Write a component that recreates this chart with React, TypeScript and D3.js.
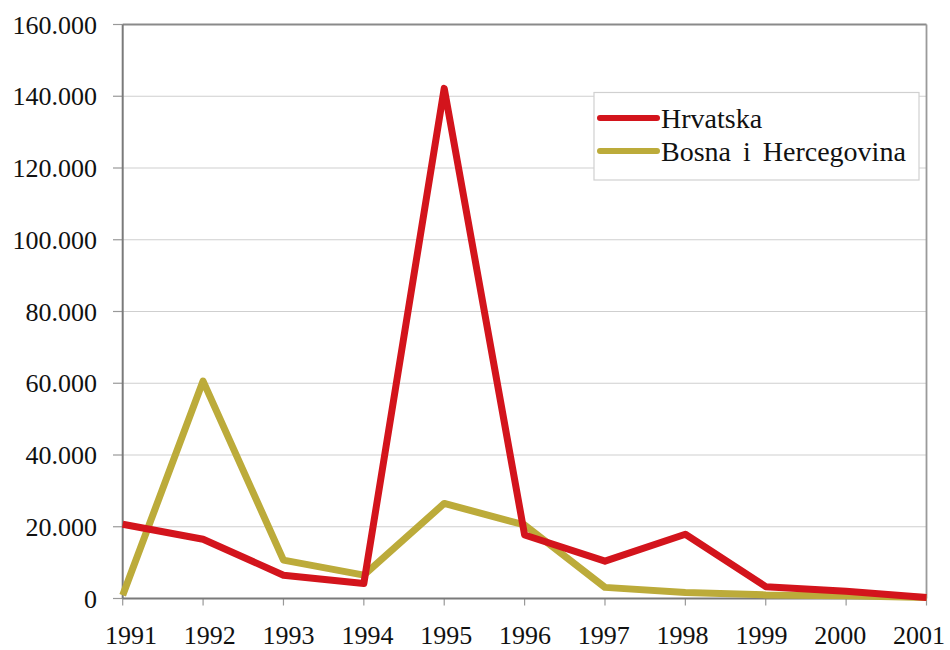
import React from "react";
import * as d3 from "d3";

const years = ["1991", "1992", "1993", "1994", "1995", "1996", "1997", "1998", "1999", "2000", "2001"];
const hrvatska = [20700, 16500, 6500, 4200, 142200, 17700, 10400, 17900, 3300, 2000, 300];
const bih = [900, 60600, 10700, 6500, 26500, 20500, 3100, 1700, 1000, 800, 300];
const yTicks = [0, 20000, 40000, 60000, 80000, 100000, 120000, 140000, 160000];
const seriesNames = ["Hrvatska", "Bosna i Hercegovina"];
const seriesColors = ["#d3141c", "#bcab3a"];

const W = 950;
const H = 650;
const left = 122.7;
const right = 926.5;
const top = 24.5;
const bottom = 598.5;

const fmt = (v: number) => (v === 0 ? "0" : d3.format(",")(v).replace(/,/g, "."));

const font = "Liberation Serif, serif";

export default function App() {
  const x = d3.scalePoint<string>().domain(years).range([left, right]);
  const xLabel = d3.scalePoint<string>().domain(years).range([131, 919]);
  const y = d3.scaleLinear().domain([0, 160000]).range([bottom, top]);
  const line = d3
    .line<number>()
    .x((_, i) => x(years[i]) as number)
    .y((d) => y(d));
  const series = [hrvatska, bih];

  return (
    <svg width={W} height={H} style={{ position: "absolute", left: 0, top: 0, background: "#fff" }}>
      {yTicks.map((t) => (
        <line key={"g" + t} x1={left} x2={right} y1={y(t)} y2={y(t)} stroke="#cfcfcf" strokeWidth={1.2} />
      ))}
      {yTicks.map((t) => (
        <line key={"yt" + t} x1={113} x2={left} y1={y(t)} y2={y(t)} stroke="#999" strokeWidth={1.2} />
      ))}
      {years.map((yr) => (
        <line key={"xt" + yr} x1={x(yr)} x2={x(yr)} y1={bottom} y2={bottom + 7} stroke="#999" strokeWidth={1.2} />
      ))}
      <line x1={left} x2={right} y1={top} y2={top} stroke="#8a8a8a" strokeWidth={1.8} />
      <line x1={right} x2={right} y1={top} y2={bottom} stroke="#9a9a9a" strokeWidth={1.8} />
      <line x1={left} x2={left} y1={top} y2={bottom} stroke="#7a7a7a" strokeWidth={2} />
      <line x1={left} x2={right} y1={bottom} y2={bottom} stroke="#7a7a7a" strokeWidth={2} />
      {yTicks.map((t) => (
        <text key={"yl" + t} x={97} y={y(t) + 9} textAnchor="end" style={{ fontFamily: font, fontSize: 26 }} fill="#111">
          {fmt(t)}
        </text>
      ))}
      {years.map((yr) => (
        <text key={"xl" + yr} x={xLabel(yr)} y={644} textAnchor="middle" style={{ fontFamily: font, fontSize: 26 }} fill="#111">
          {yr}
        </text>
      ))}
      {[1, 0].map((i) => (
        <path
          key={"s" + i}
          d={line(series[i]) || ""}
          fill="none"
          stroke={seriesColors[i]}
          strokeWidth={7}
          strokeLinejoin="round"
          strokeLinecap="butt"
        />
      ))}
      <rect x={594} y={92.5} width={325} height={87.5} fill="#fff" stroke="#d0d0d0" strokeWidth={1.2} />
      {seriesNames.map((n, i) => {
        const cy = 118 + i * 33;
        return (
          <g key={"lg" + n}>
            <line x1={600} x2={657} y1={cy} y2={cy} stroke={seriesColors[i]} strokeWidth={6} strokeLinecap="round" />
            <text x={661} y={cy + 9.5} style={{ fontFamily: font, fontSize: 28, wordSpacing: 5 }} fill="#111">
              {n}
            </text>
          </g>
        );
      })}
    </svg>
  );
}
